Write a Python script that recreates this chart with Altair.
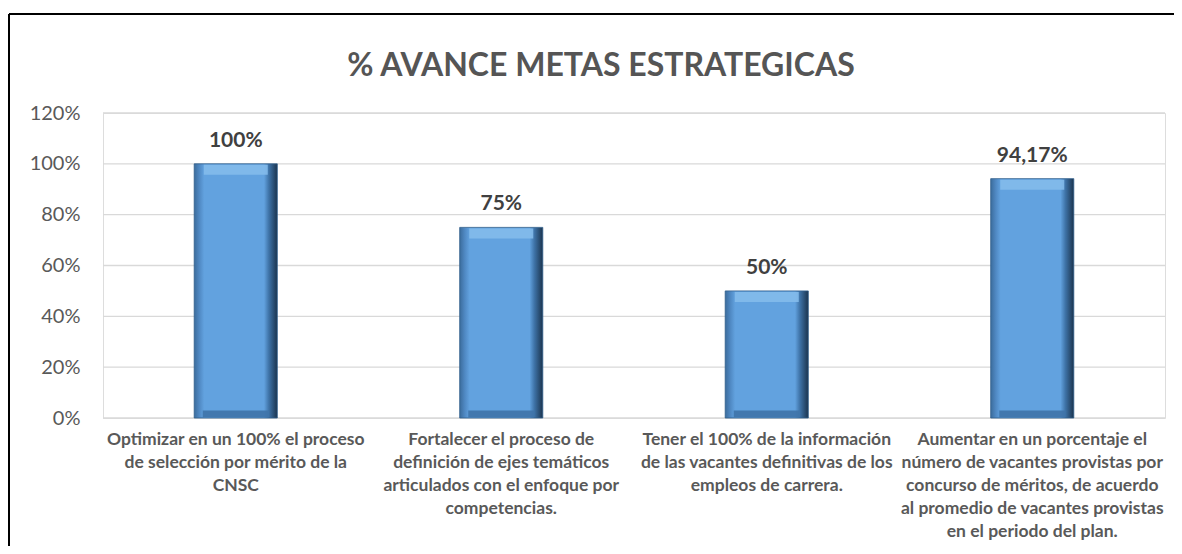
import altair as alt
import pandas as pd

categories = [
    "Optimizar en un 100% el proceso\nde selección por mérito de la\nCNSC",
    "Fortalecer el proceso de\ndefinición de ejes temáticos\narticulados con el enfoque por\ncompetencias.",
    "Tener el 100% de la información\nde las vacantes definitivas de los\nempleos de carrera.",
    "Aumentar en un porcentaje el\nnúmero de vacantes provistas por\nconcurso de méritos, de acuerdo\nal promedio de vacantes provistas\nen el periodo del plan.",
]
values = [1.0, 0.75, 0.5, 0.9417]
value_labels = ["100%", "75%", "50%", "94,17%"]
y_ticks = [0, 0.2, 0.4, 0.6, 0.8, 1.0, 1.2]
title_text = "% AVANCE METAS ESTRATEGICAS"

df = pd.DataFrame({"cat": categories, "val": values, "lbl": value_labels})
grid_df = pd.DataFrame({"t": y_ticks})

W, H = 1062, 305
FONT = "Lato"
GREY = "#595959"

xscale = alt.Scale(domain=categories, paddingInner=0.687, paddingOuter=0.3435)
xenc = alt.X("cat:N", sort=None, title=None, scale=xscale,
             axis=alt.Axis(labelExpr="split(datum.label, '\\n')", labelAngle=0,
                           labelFont=FONT, labelFontSize=17.5, labelFontWeight="bold",
                           labelColor=GREY, labelLineHeight=23.2, labelPadding=12,
                           labelLimit=400, labelOverlap=False, labelBaseline="top",
                           domain=False, ticks=False, grid=False))
xplain = alt.X("cat:N", sort=None, scale=xscale)
yscale = alt.Scale(domain=[0, 1.2], nice=False)
yenc = alt.Y("val:Q", scale=yscale, title=None,
             axis=alt.Axis(values=y_ticks, format=".0%", labelFont=FONT, labelFontSize=20,
                           labelColor=GREY, labelPadding=23, domain=False, ticks=False,
                           grid=False))

grid = alt.Chart(grid_df).mark_rule(color="#D9D9D9", strokeWidth=1.3).encode(
    y=alt.Y("t:Q", scale=yscale), x=alt.value(0), x2=alt.value(W))

bar_grad = alt.Gradient(
    gradient="linear", x1=0, x2=1, y1=0, y2=0,
    stops=[alt.GradientStop(offset=0, color="#3b6c9c"),
           alt.GradientStop(offset=0.06, color="#4f88c2"),
           alt.GradientStop(offset=0.12, color="#62a2df"),
           alt.GradientStop(offset=0.84, color="#62a2df"),
           alt.GradientStop(offset=0.9, color="#3e72a6"),
           alt.GradientStop(offset=1, color="#1b344e")])

bars = alt.Chart(df).mark_bar(color=bar_grad, stroke="#2f5d8a", strokeWidth=0.8).encode(
    x=xenc, y=yenc)

top_bevel = alt.Chart(df).mark_tick(color="#86bdec", thickness=10, size=64, yOffset=6,
                                    opacity=0.85).encode(x=xplain, y=alt.Y("val:Q", scale=yscale))
bottom_bevel = alt.Chart(df).mark_tick(color="#3f73a8", thickness=7, size=66, yOffset=-4,
                                       opacity=0.9).encode(x=xplain, y=alt.datum(0))

labels = alt.Chart(df).mark_text(font=FONT, fontSize=21, fontWeight="bold", color="#404040",
                                 baseline="alphabetic", dy=-17).encode(
    x=xplain, y=alt.Y("val:Q", scale=yscale), text="lbl:N")

border_top = alt.Chart(grid_df.head(1)).mark_rule(color="black", strokeWidth=2).encode(
    x=alt.value(-94), x2=alt.value(W + 9), y=alt.value(-99))
border_left = alt.Chart(grid_df.head(1)).mark_rule(color="black", strokeWidth=2).encode(
    x=alt.value(-94), y=alt.value(-99), y2=alt.value(H + 128))

chart = alt.layer(grid, bars, top_bevel, bottom_bevel, labels, border_top, border_left).properties(
    width=W, height=H,
    title=alt.TitleParams(title_text, font=FONT, fontSize=32, fontWeight="bold", color="#555555",
                          anchor="middle", dx=-33, offset=-95, baseline="alphabetic"),
    autosize=alt.AutoSizeParams(type="none"),
    padding={"left": 95, "top": 105, "right": 9, "bottom": 128},
).configure_view(stroke="transparent", strokeWidth=0).configure(background="white")

chart.save("out.html", embed_options={"renderer": "svg", "actions": False})
